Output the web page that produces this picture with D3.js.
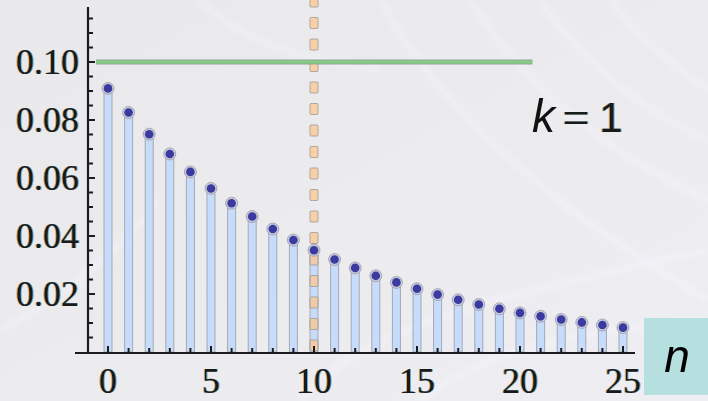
<!DOCTYPE html>
<html>
<head>
<meta charset="utf-8">
<script src="https://cdn.jsdelivr.net/npm/d3@7/dist/d3.min.js"></script>
<style>
  html, body { margin: 0; padding: 0; background: #ebebee; }
  svg { display: block; }
</style>
</head>
<body>
<svg id="chart" width="708" height="401"></svg>
<script>
// Probabilities P(n) for n = 0..25
const nValues = d3.range(0, 26);
const probs = [0.0909, 0.0826, 0.0751, 0.0683, 0.0621, 0.0564, 0.0513, 0.0467, 0.0424,
               0.0386, 0.0351, 0.0319, 0.0290, 0.0263, 0.0240, 0.0218, 0.0198, 0.0180,
               0.0164, 0.0149, 0.0135, 0.0123, 0.0112, 0.0102, 0.0093, 0.0084];
const meanN = 10;          // dashed vertical marker
const levelLine = 0.10;    // horizontal reference line
const levelLineEnd = 20.6; // where the horizontal line stops (in n units)
const xTickLabels = [0, 5, 10, 15, 20, 25];
const yTickLabels = [0.02, 0.04, 0.06, 0.08, 0.10];
const kLabel = "1";
const axisLabel = "n";

const svg = d3.select("#chart");
const W = 708, H = 401;

// Background with soft light streaks
const defs = svg.append("defs");
const bg = defs.append("linearGradient").attr("id", "bg").attr("x1", 0).attr("y1", 0).attr("x2", 1).attr("y2", 1);
bg.append("stop").attr("offset", "0%").attr("stop-color", "#e9e9eb");
bg.append("stop").attr("offset", "60%").attr("stop-color", "#ececef");
bg.append("stop").attr("offset", "100%").attr("stop-color", "#eeeef3");
svg.append("rect").attr("width", W).attr("height", H).attr("fill", "url(#bg)");

const blur = defs.append("filter").attr("id", "soft");
blur.append("feGaussianBlur").attr("stdDeviation", 3);
const streaks = [
  "M380,0 C430,90 520,190 708,300",
  "M470,0 C520,80 600,150 708,200",
  "M540,0 C580,60 640,110 708,140",
  "M610,0 C640,40 680,70 708,90",
  "M300,401 C360,330 480,300 708,250",
  "M420,401 C480,350 580,330 708,320",
  "M0,330 C60,300 120,250 160,200",
  "M200,0 C240,40 300,60 380,70"
];
svg.append("g").attr("filter", "url(#soft)")
  .selectAll("path").data(streaks).join("path")
  .attr("d", d => d)
  .attr("fill", "none")
  .attr("stroke", "#f7f7ff")
  .attr("stroke-width", 5)
  .attr("opacity", 0.5);

// Scales
const x = d3.scaleLinear().domain([0, 25]).range([108, 623]);
const y = d3.scaleLinear().domain([0, 0.10]).range([352, 62]);
const y0 = y(0);

// Text with an orange/blue colour fringe drawn under the dark glyphs
function fringeText(g, px, py, txt, opts) {
  const anchor = opts.anchor || "middle";
  const font = opts.font || "'Liberation Serif', 'Times New Roman', serif";
  const size = opts.size || 36;
  [[-1, "#e0902a", 0.8], [1, "#3aa0e0", 0.8], [0, "#1a1a1a", 1]].forEach(([dx, col, op]) => {
    g.append("text")
      .attr("x", px + dx).attr("y", py)
      .attr("text-anchor", anchor)
      .attr("font-family", font)
      .attr("font-size", size)
      .attr("fill", col)
      .attr("opacity", op)
      .text(txt);
  });
}

// Bars (stems)
const barW = 8;
svg.append("g").selectAll("rect").data(nValues).join("rect")
  .attr("x", d => x(d) - barW / 2)
  .attr("y", (d, i) => y(probs[i]))
  .attr("width", barW)
  .attr("height", (d, i) => y0 - y(probs[i]))
  .attr("fill", "#c6dcfa")
  .attr("stroke", "#a3a8b4")
  .attr("stroke-width", 1);

// Dashed vertical line at the mean
const dashG = svg.append("g");
const dashTop = -4, dashLen = 11, dashGap = 10.5;
const dashStarts = d3.range(dashTop, y0 - 4, dashLen + dashGap);
dashG.selectAll("rect").data(dashStarts).join("rect")
  .attr("x", x(meanN) - 4)
  .attr("y", d => d)
  .attr("width", 8)
  .attr("height", d => Math.min(dashLen, y0 - d))
  .attr("rx", 1)
  .attr("fill", "#fdc58c")
  .attr("fill-opacity", 0.75)
  .attr("stroke", "#9a9a9a")
  .attr("stroke-width", 1)
  .attr("stroke-opacity", 0.8);

// Horizontal reference line
svg.append("line")
  .attr("x1", 96).attr("x2", x(levelLineEnd))
  .attr("y1", y(levelLine)).attr("y2", y(levelLine))
  .attr("stroke", "#9aa09a").attr("stroke-width", 5);
svg.append("line")
  .attr("x1", 96).attr("x2", x(levelLineEnd))
  .attr("y1", y(levelLine)).attr("y2", y(levelLine))
  .attr("stroke", "#80d083").attr("stroke-width", 3);

// Points
svg.append("g").selectAll("circle.halo").data(nValues).join("circle")
  .attr("cx", d => x(d)).attr("cy", (d, i) => y(probs[i]))
  .attr("r", 6)
  .attr("fill", "#c9cbdc")
  .attr("stroke", "#9a9aa8")
  .attr("stroke-width", 0.8);
svg.append("g").selectAll("circle.dot").data(nValues).join("circle")
  .attr("cx", d => x(d)).attr("cy", (d, i) => y(probs[i]))
  .attr("r", 4.3)
  .attr("fill", "#3b3aa0");

// Axes
const axisG = svg.append("g");
axisG.append("line")
  .attr("x1", 75).attr("x2", 635).attr("y1", y0 + 1).attr("y2", y0 + 1)
  .attr("stroke", "#1c1c1c").attr("stroke-width", 2.2);
axisG.append("line")
  .attr("x1", 88).attr("x2", 88).attr("y1", 7).attr("y2", y0 + 1)
  .attr("stroke", "#1c1c1c").attr("stroke-width", 2.2);

// X ticks at every integer, longer at labelled ones
axisG.selectAll("line.xt").data(nValues).join("line")
  .attr("x1", d => x(d)).attr("x2", d => x(d))
  .attr("y1", y0).attr("y2", d => y0 - (d % 5 === 0 ? 6 : 4))
  .attr("stroke", "#1c1c1c").attr("stroke-width", 2);

// Y ticks every 0.005, longer at labelled ones
const yTicks = d3.range(0.005, 0.1175, 0.005);
axisG.selectAll("line.yt").data(yTicks).join("line")
  .attr("x1", 88).attr("x2", d => 88 + (Math.abs(d * 50 - Math.round(d * 50)) < 1e-6 ? 7 : 5))
  .attr("y1", d => y(d)).attr("y2", d => y(d))
  .attr("stroke", "#1c1c1c").attr("stroke-width", 2);

// Tick labels
const labelsG = svg.append("g");
xTickLabels.forEach(v => fringeText(labelsG, x(v), 393, String(v), { size: 36 }));
yTickLabels.forEach(v => fringeText(labelsG, 79, y(v) + 12, d3.format(".2f")(v), { anchor: "end", size: 36 }));

// "k = 1" annotation
const kG = svg.append("g");
kG.append("text")
  .attr("x", 532).attr("y", 132)
  .attr("font-family", "'Liberation Sans', Arial, sans-serif")
  .attr("font-size", 46).attr("font-style", "italic")
  .attr("fill", "#111")
  .text("k");
fringeText(kG, 576, 134, "=", { size: 48, font: "'Liberation Serif', serif" });
fringeText(kG, 611, 132, kLabel, { size: 42, font: "'Liberation Sans', Arial, sans-serif" });

// Axis label box
svg.append("rect")
  .attr("x", 644).attr("y", 318).attr("width", 64).attr("height", 77)
  .attr("fill", "#b6dfdf");
svg.append("text")
  .attr("x", 677).attr("y", 372)
  .attr("text-anchor", "middle")
  .attr("font-family", "'Liberation Sans', Arial, sans-serif")
  .attr("font-size", 46).attr("font-style", "italic")
  .attr("fill", "#000")
  .text(axisLabel);
</script>
</body>
</html>
